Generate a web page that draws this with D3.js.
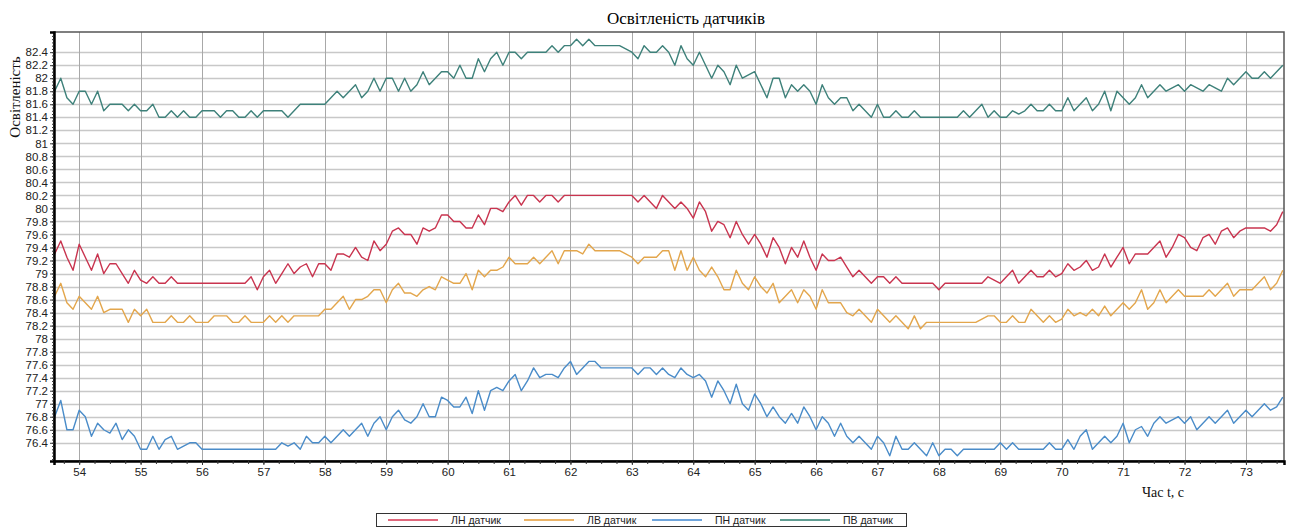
<!DOCTYPE html>
<html>
<head>
<meta charset="utf-8">
<script src="https://cdn.jsdelivr.net/npm/d3@7"></script>
<style>
  body { margin: 0; background: #fff; }
</style>
</head>
<body>
<div class="container"></div>
<script>
// samples every 0.1 s, from 53.6 s to 73.6 s
const startTime = 53.6;
const step = 0.1;

const seriesNames = ["ЛН датчик", "ЛВ датчик", "ПН датчик", "ПВ датчик"];

const lnValues = [
  79.3, 79.5, 79.25, 79.05,
  79.45, 79.25, 79.05, 79.3, 79.0, 79.15, 79.15, 79.0, 78.85, 79.05,
  78.9, 78.85, 78.95, 78.85, 78.85, 78.95, 78.85, 78.85, 78.85, 78.85,
  78.85, 78.85, 78.85, 78.85, 78.85, 78.85, 78.85, 78.85, 78.95, 78.75,
  78.95, 79.05, 78.85, 79.0, 79.15, 79.0, 79.1, 79.15, 78.95, 79.15,
  79.15, 79.05, 79.3, 79.3, 79.25, 79.4, 79.25, 79.2, 79.5, 79.35,
  79.45, 79.65, 79.7, 79.6, 79.6, 79.45, 79.7, 79.65, 79.7, 79.9,
  79.9, 79.8, 79.8, 79.7, 79.7, 79.9, 79.75, 80.0, 80.0, 79.95,
  80.1, 80.2, 80.05, 80.2, 80.2, 80.1, 80.2, 80.2, 80.1, 80.2,
  80.2, 80.2, 80.2, 80.2, 80.2, 80.2, 80.2, 80.2, 80.2, 80.2,
  80.2, 80.1, 80.2, 80.1, 80.0, 80.2, 80.1, 80.0, 80.1, 80.0,
  79.85, 80.1, 79.95, 79.65, 79.8, 79.75, 79.55, 79.8, 79.6, 79.45,
  79.6, 79.45, 79.25, 79.55, 79.4, 79.15, 79.4, 79.25, 79.5, 79.25,
  79.05, 79.3, 79.2, 79.2, 79.25, 79.1, 78.95, 79.05, 78.95, 78.85,
  78.95, 78.95, 78.85, 78.95, 78.85, 78.85, 78.85, 78.85, 78.85, 78.85,
  78.75, 78.85, 78.85, 78.85, 78.85, 78.85, 78.85, 78.85, 78.95, 78.9,
  78.85, 78.95, 79.05, 78.85, 78.95, 79.05, 78.95, 78.95, 79.05, 78.95,
  79.0, 79.15, 79.05, 79.1, 79.2, 79.05, 79.1, 79.3, 79.1, 79.25,
  79.4, 79.15, 79.3, 79.3, 79.3, 79.4, 79.5, 79.25, 79.4, 79.6,
  79.55, 79.4, 79.35, 79.55, 79.6, 79.45, 79.65, 79.7, 79.55, 79.65,
  79.7, 79.7, 79.7, 79.7, 79.65, 79.75, 79.95
];

const lvValues = [
  78.65, 78.85, 78.55, 78.45,
  78.65, 78.55, 78.45, 78.65, 78.4, 78.45, 78.45, 78.45, 78.25, 78.45,
  78.35, 78.45, 78.25, 78.25, 78.25, 78.35, 78.25, 78.25, 78.35, 78.25,
  78.25, 78.25, 78.35, 78.35, 78.35, 78.25, 78.25, 78.35, 78.25, 78.25,
  78.25, 78.35, 78.25, 78.35, 78.25, 78.35, 78.35, 78.35, 78.35, 78.35,
  78.45, 78.45, 78.55, 78.65, 78.45, 78.6, 78.6, 78.65, 78.75, 78.75,
  78.55, 78.75, 78.85, 78.7, 78.7, 78.65, 78.75, 78.8, 78.75, 78.95,
  78.9, 78.85, 78.85, 79.0, 78.75, 79.05, 78.95, 79.05, 79.05, 79.1,
  79.25, 79.15, 79.15, 79.15, 79.25, 79.15, 79.25, 79.35, 79.15, 79.35,
  79.35, 79.35, 79.3, 79.45, 79.35, 79.35, 79.35, 79.35, 79.35, 79.3,
  79.25, 79.15, 79.25, 79.25, 79.25, 79.35, 79.35, 79.05, 79.35, 79.05,
  79.25, 79.05, 78.95, 79.1, 78.95, 78.75, 78.75, 79.05, 78.85, 78.75,
  78.95, 78.8, 78.7, 78.85, 78.55, 78.65, 78.75, 78.55, 78.75, 78.65,
  78.45, 78.75, 78.55, 78.55, 78.55, 78.4, 78.35, 78.45, 78.35, 78.25,
  78.45, 78.35, 78.25, 78.35, 78.25, 78.15, 78.35, 78.15, 78.25, 78.25,
  78.25, 78.25, 78.25, 78.25, 78.25, 78.25, 78.25, 78.3, 78.35, 78.35,
  78.25, 78.25, 78.35, 78.25, 78.25, 78.45, 78.35, 78.25, 78.35, 78.25,
  78.3, 78.45, 78.35, 78.4, 78.35, 78.45, 78.35, 78.5, 78.35, 78.45,
  78.55, 78.45, 78.55, 78.75, 78.45, 78.55, 78.75, 78.55, 78.65, 78.75,
  78.65, 78.65, 78.65, 78.65, 78.75, 78.65, 78.75, 78.85, 78.65, 78.75,
  78.75, 78.75, 78.85, 78.95, 78.75, 78.85, 79.05
];

const pnValues = [
  76.8, 77.05, 76.6, 76.6,
  76.9, 76.8, 76.5, 76.7, 76.6, 76.55, 76.7, 76.45, 76.6, 76.5,
  76.3, 76.3, 76.5, 76.3, 76.45, 76.5, 76.3, 76.35, 76.4, 76.4,
  76.3, 76.3, 76.3, 76.3, 76.3, 76.3, 76.3, 76.3, 76.3, 76.3,
  76.3, 76.3, 76.3, 76.4, 76.35, 76.4, 76.3, 76.5, 76.4, 76.4,
  76.5, 76.4, 76.5, 76.6, 76.5, 76.6, 76.7, 76.5, 76.7, 76.8,
  76.6, 76.8, 76.9, 76.75, 76.7, 76.8, 77.0, 76.8, 76.8, 77.1,
  77.05, 76.95, 76.95, 77.1, 76.85, 77.2, 76.9, 77.2, 77.25, 77.2,
  77.35, 77.45, 77.2, 77.35, 77.55, 77.4, 77.45, 77.45, 77.4, 77.55,
  77.65, 77.45, 77.55, 77.65, 77.65, 77.55, 77.55, 77.55, 77.55, 77.55,
  77.55, 77.45, 77.55, 77.55, 77.45, 77.55, 77.45, 77.4, 77.55, 77.45,
  77.4, 77.45, 77.35, 77.1, 77.35, 77.2, 77.0, 77.3, 77.0, 76.9,
  77.15, 77.0, 76.8, 76.95, 76.8, 76.7, 76.85, 76.7, 76.95, 76.8,
  76.6, 76.8, 76.7, 76.5, 76.7, 76.5, 76.4, 76.5, 76.4, 76.3,
  76.5, 76.4, 76.2, 76.5, 76.3, 76.3, 76.4, 76.3, 76.2, 76.4,
  76.2, 76.3, 76.3, 76.2, 76.3, 76.3, 76.3, 76.3, 76.3, 76.3,
  76.4, 76.3, 76.4, 76.3, 76.3, 76.3, 76.3, 76.3, 76.4, 76.3,
  76.3, 76.45, 76.3, 76.5, 76.6, 76.3, 76.4, 76.5, 76.4, 76.5,
  76.7, 76.4, 76.6, 76.65, 76.5, 76.7, 76.8, 76.7, 76.75, 76.8,
  76.7, 76.8, 76.6, 76.7, 76.8, 76.7, 76.8, 76.9, 76.7, 76.8,
  76.9, 76.8, 76.9, 77.0, 76.9, 76.95, 77.1
];

const pvValues = [
  81.8, 82.0, 81.7, 81.6,
  81.8, 81.8, 81.6, 81.8, 81.5, 81.6, 81.6, 81.6, 81.5, 81.6,
  81.5, 81.5, 81.6, 81.4, 81.4, 81.5, 81.4, 81.5, 81.4, 81.4,
  81.5, 81.5, 81.5, 81.4, 81.5, 81.5, 81.4, 81.4, 81.5, 81.4,
  81.5, 81.5, 81.5, 81.5, 81.4, 81.5, 81.6, 81.6, 81.6, 81.6,
  81.6, 81.7, 81.8, 81.7, 81.8, 81.9, 81.7, 81.8, 82.0, 81.8,
  82.0, 82.0, 81.8, 82.0, 81.8, 81.9, 82.1, 81.9, 82.0, 82.1,
  82.1, 82.0, 82.2, 82.0, 82.0, 82.3, 82.1, 82.3, 82.4, 82.2,
  82.4, 82.4, 82.3, 82.4, 82.4, 82.4, 82.4, 82.5, 82.4, 82.5,
  82.5, 82.6, 82.5, 82.6, 82.5, 82.5, 82.5, 82.5, 82.5, 82.45,
  82.4, 82.3, 82.5, 82.4, 82.4, 82.5, 82.4, 82.2, 82.5, 82.3,
  82.2, 82.4, 82.2, 82.0, 82.2, 82.1, 81.9, 82.2, 82.0, 82.05,
  82.1, 81.9, 81.7, 82.0, 82.0, 81.7, 81.9, 81.8, 81.9, 81.8,
  81.6, 81.9, 81.7, 81.6, 81.7, 81.7, 81.5, 81.6, 81.5, 81.4,
  81.6, 81.4, 81.4, 81.5, 81.4, 81.4, 81.5, 81.4, 81.4, 81.4,
  81.4, 81.4, 81.4, 81.4, 81.5, 81.4, 81.5, 81.6, 81.4, 81.5,
  81.4, 81.4, 81.5, 81.45, 81.5, 81.6, 81.5, 81.5, 81.6, 81.5,
  81.5, 81.7, 81.5, 81.6, 81.7, 81.5, 81.6, 81.8, 81.5, 81.8,
  81.7, 81.6, 81.7, 81.9, 81.7, 81.8, 81.9, 81.8, 81.85, 81.9,
  81.8, 81.9, 81.85, 81.8, 81.9, 81.85, 81.8, 82.0, 81.9, 82.0,
  82.1, 82.0, 82.0, 82.1, 82.0, 82.1, 82.2
];

const xTickValues = [54, 55, 56, 57, 58, 59, 60, 61, 62, 63, 64, 65, 66, 67, 68, 69, 70, 71, 72, 73];
const yTickValues = [76.4, 76.6, 76.8, 77, 77.2, 77.4, 77.6, 77.8, 78, 78.2, 78.4, 78.6, 78.8,
  79, 79.2, 79.4, 79.6, 79.8, 80, 80.2, 80.4, 80.6, 80.8, 81, 81.2, 81.4, 81.6, 81.8, 82, 82.2, 82.4];

const lineColors = ["#c9344f", "#e3a64c", "#4a8cc9", "#3e817a"];
const legendColors = ["#e0687c", "#ebb468", "#6fa5dc", "#5f9d92"];

const width = 1292;
const height = 528;
const margin = { top: 32, right: 8, bottom: 67, left: 54 };

const svg = d3.select(".container").append("svg")
  .attr("width", width)
  .attr("height", height);

const x = d3.scaleLinear()
  .domain([53.59, 73.62])
  .range([margin.left, width - margin.right]);

const y = d3.scaleLinear()
  .domain([76.12, 82.71])
  .range([height - margin.bottom, margin.top]);

// grid
svg.append("g")
  .selectAll("line")
  .data(yTickValues)
  .enter()
  .append("line")
  .attr("x1", margin.left)
  .attr("x2", width - margin.right)
  .attr("y1", d => Math.round(y(d)) + 0.5)
  .attr("y2", d => Math.round(y(d)) + 0.5)
  .attr("stroke", "#c8c8c8")
  .attr("stroke-width", 1.5);

svg.append("g")
  .selectAll("line")
  .data(xTickValues)
  .enter()
  .append("line")
  .attr("x1", d => Math.round(x(d)) + 0.5)
  .attr("x2", d => Math.round(x(d)) + 0.5)
  .attr("y1", margin.top)
  .attr("y2", height - margin.bottom)
  .attr("stroke", "#a8a8a8")
  .attr("stroke-width", 1);

// frame
svg.append("rect")
  .attr("x", margin.left)
  .attr("y", margin.top)
  .attr("width", width - margin.left - margin.right)
  .attr("height", height - margin.top - margin.bottom)
  .attr("fill", "none")
  .attr("stroke", "#555")
  .attr("stroke-width", 1.5);

// series
const series = [lnValues, lvValues, pnValues, pvValues];
const line = d3.line()
  .x((d, i) => x(startTime + i * step))
  .y(d => y(d));

series.forEach((values, k) => {
  svg.append("path")
    .datum(values)
    .attr("fill", "none")
    .attr("stroke", lineColors[k])
    .attr("stroke-width", 1.4)
    .attr("stroke-linejoin", "round")
    .attr("d", line);
});

// axes
const yAxis = svg.append("g")
  .attr("transform", `translate(${margin.left},0)`)
  .call(d3.axisLeft(y).tickValues(yTickValues).tickSize(4).tickFormat(d => d3.format("")(+d.toFixed(1))));

// y minor ticks
svg.append("g")
  .attr("transform", `translate(${margin.left},0)`)
  .call(d3.axisLeft(y).tickValues(d3.range(76.15, 82.7, 0.05)).tickSize(2).tickFormat(""))
  .call(g => g.select(".domain").remove());

const xAxis = svg.append("g")
  .attr("transform", `translate(0,${height - margin.bottom})`)
  .call(d3.axisBottom(x).tickValues(xTickValues).tickSize(4).tickFormat(d3.format("d")));

svg.append("g")
  .attr("transform", `translate(0,${height - margin.bottom})`)
  .call(d3.axisBottom(x).tickValues(d3.range(53.75, 73.6, 0.25)).tickSize(3).tickFormat(""))
  .call(g => g.select(".domain").remove());

svg.selectAll(".tick line").attr("stroke", "#333");
[yAxis, xAxis].forEach(g => {
  g.select(".domain").attr("stroke", "#000").attr("stroke-width", 2.5);
  g.selectAll("text")
    .attr("font-family", "'Liberation Sans Narrow', 'Liberation Sans', Arial, sans-serif")
    .attr("font-size", 11.5)
    .attr("fill", "#222");
});
yAxis.selectAll("text").attr("x", -6);
xAxis.selectAll("text").attr("y", 7);

// titles
svg.append("text")
  .attr("x", 686)
  .attr("y", 24)
  .attr("text-anchor", "middle")
  .attr("font-family", "'Liberation Serif', 'Times New Roman', serif")
  .attr("font-size", 17)
  .attr("fill", "#000")
  .text("Освітленість датчиків");

svg.append("text")
  .attr("transform", "translate(20,97) rotate(-90)")
  .attr("text-anchor", "middle")
  .attr("font-family", "'Liberation Serif', 'Times New Roman', serif")
  .attr("font-size", 15)
  .attr("fill", "#111")
  .text("Освітленість");

svg.append("text")
  .attr("x", 1163)
  .attr("y", 497)
  .attr("text-anchor", "middle")
  .attr("font-family", "'Liberation Serif', 'Times New Roman', serif")
  .attr("font-size", 14)
  .attr("fill", "#111")
  .text("Час t, с");

// legend
const legend = svg.append("g").attr("transform", "translate(376,513)");
legend.append("rect")
  .attr("x", 0.5)
  .attr("y", 0.5)
  .attr("width", 530)
  .attr("height", 13)
  .attr("fill", "#fff")
  .attr("stroke", "#333");

const itemX = [12, 148, 276, 404];
seriesNames.forEach((name, k) => {
  const item = legend.append("g").attr("transform", `translate(${itemX[k]},0)`);
  item.append("line")
    .attr("x1", 0).attr("x2", 50)
    .attr("y1", 7).attr("y2", 7)
    .attr("stroke", legendColors[k])
    .attr("stroke-width", 2);
  item.append("text")
    .attr("x", 63)
    .attr("y", 11)
    .attr("font-family", "'Liberation Sans Narrow', 'Liberation Sans', Arial, sans-serif")
    .attr("font-size", 10.5)
    .attr("fill", "#222")
    .text(name);
});
</script>
</body>
</html>
